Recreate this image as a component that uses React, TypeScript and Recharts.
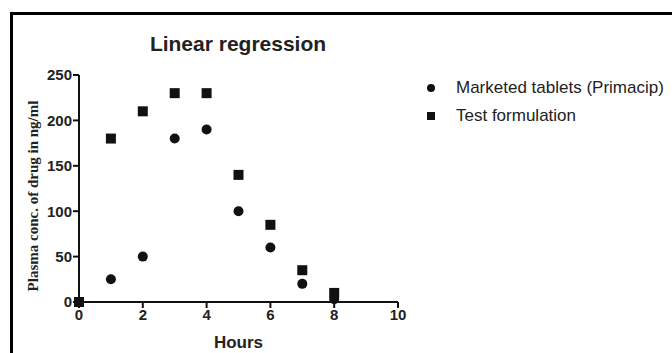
import React from "react";
import { ScatterChart, Scatter, XAxis, YAxis, Label } from "recharts";

const hours = [0, 1, 2, 3, 4, 5, 6, 7, 8];
const marketed = [0, 25, 50, 180, 190, 100, 60, 20, 3];
const testForm = [0, 180, 210, 230, 230, 140, 85, 35, 10];
const xTicks = [0, 2, 4, 6, 8, 10];
const yTicks = [0, 50, 100, 150, 200, 250];

const marketedData = hours.map((h, i) => ({ x: h, y: marketed[i] }));
const testData = hours.map((h, i) => ({ x: h, y: testForm[i] }));

const tickStyle = { fontSize: 15, fontWeight: "bold", fill: "#222", fontFamily: "Liberation Sans, Arial" };

const Dot = (props: any) => <circle cx={props.cx} cy={props.cy} r={5} fill="#111" />;
const Sq = (props: any) => <rect x={props.cx - 5} y={props.cy - 5} width={10} height={10} fill="#111" />;

const LegendBox = () => (
  <div style={{ position: "absolute", left: 424, top: 74, fontFamily: "Liberation Sans, Arial", fontSize: 17, color: "#222" }}>
    <div style={{ display: "flex", alignItems: "center", height: 28 }}>
      <svg width={32} height={12}><circle cx={7} cy={6} r={4} fill="#111" /></svg>
      <span>Marketed tablets (Primacip)</span>
    </div>
    <div style={{ display: "flex", alignItems: "center", height: 28 }}>
      <svg width={32} height={12}><rect x={3} y={2} width={8} height={8} fill="#111" /></svg>
      <span>Test formulation</span>
    </div>
  </div>
);

const YLabel = (props: any) => {
  const cx = 33;
  const cy = 196;
  return (
    <text
      x={cx}
      y={cy}
      transform={`rotate(-90 ${cx} ${cy})`}
      textAnchor="middle"
      dominantBaseline="central"
      style={{ fontFamily: "Liberation Serif, Times New Roman", fontWeight: "bold", fontSize: 15, fill: "#222" }}
    >
      Plasma conc. of drug in ng/ml
    </text>
  );
};

const App = () => {
  return (
    <div style={{ position: "absolute", left: 0, top: 0, width: 672, height: 353, overflow: "hidden", background: "#fff" }}>
      <div
        style={{
          position: "absolute",
          left: 10,
          top: 12,
          width: 800,
          height: 500,
          borderTop: "3px solid #000",
          borderLeft: "3px solid #000",
        }}
      />
      <div
        style={{
          position: "absolute",
          left: 120,
          width: 236,
          top: 32,
          textAlign: "center",
          fontFamily: "Liberation Sans, Arial",
          fontWeight: "bold",
          fontSize: 21,
          color: "#222",
        }}
      >
        Linear regression
      </div>
      <LegendBox />
      <ScatterChart
        width={672}
        height={353}
        margin={{ top: 75, right: 274, bottom: 0, left: 0 }}
        style={{ position: "absolute", left: 0, top: 0 }}
      >
        <XAxis
          type="number"
          dataKey="x"
          domain={[0, 10]}
          ticks={xTicks}
          height={51}
          tick={tickStyle}
          tickSize={6}
          tickMargin={1}
          axisLine={{ stroke: "#111", strokeWidth: 2 }}
          tickLine={{ stroke: "#111", strokeWidth: 2 }}
        >
          <Label
            value="Hours"
            position="insideBottom"
            offset={5}
            style={{ fontFamily: "Liberation Sans, Arial", fontWeight: "bold", fontSize: 17, fill: "#222" }}
          />
        </XAxis>
        <YAxis
          type="number"
          dataKey="y"
          domain={[0, 250]}
          ticks={yTicks}
          width={79}
          tick={tickStyle}
          tickSize={6}
          tickMargin={1}
          axisLine={{ stroke: "#111", strokeWidth: 2 }}
          tickLine={{ stroke: "#111", strokeWidth: 2 }}
        >
          <Label content={<YLabel />} />
        </YAxis>
        <Scatter name="Marketed tablets (Primacip)" data={marketedData} shape={<Dot />} isAnimationActive={false} />
        <Scatter name="Test formulation" data={testData} shape={<Sq />} isAnimationActive={false} />
      </ScatterChart>
    </div>
  );
};

export default App;
